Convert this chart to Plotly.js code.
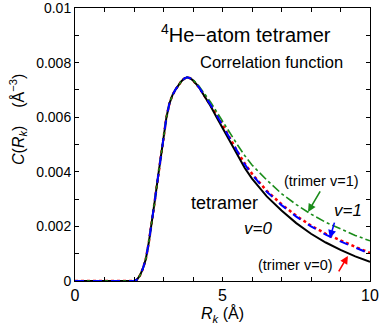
<!DOCTYPE html>
<html>
<head>
<meta charset="utf-8">
<script src="https://cdn.plot.ly/plotly-3.0.1.min.js"></script>
<style>html,body{margin:0;padding:0;background:#fff;}#plot{width:382px;height:327px;}</style>
</head>
<body>
<div id="plot"></div>
<script>
// R_k grid (Å)
const rk = [0, 0.5, 1.0, 1.5, 2.0, 2.1, 2.2, 2.3, 2.4, 2.5, 2.6, 2.7, 2.8, 2.9, 3.0, 3.1, 3.2, 3.3, 3.4, 3.5, 3.6, 3.7, 3.8, 3.9, 4.0, 4.2, 4.4, 4.6, 4.8, 5.0, 5.25, 5.5, 5.75, 6.0, 6.5, 7.0, 7.5, 8.0, 8.5, 9.0, 9.5, 10.0];
// tetramer v=0 (black solid)
const tetV0 = [0, 0, 0, 0, 0, 0.00005, 0.0002, 0.00045, 0.0008, 0.0014, 0.0021, 0.0029, 0.0037, 0.0045, 0.0053, 0.0060, 0.0065, 0.0068, 0.0070, 0.00717, 0.00731, 0.00741, 0.00746, 0.00743, 0.00735, 0.0071, 0.00677, 0.0064, 0.0060, 0.0056, 0.0051, 0.0046, 0.00415, 0.00375, 0.0031, 0.00258, 0.00212, 0.00173, 0.00141, 0.00114, 0.0009, 0.0007];
// tetramer v=1 (blue dashed)
const tetV1 = [0, 0, 0, 0, 0, 0.00005, 0.0002, 0.00045, 0.0008, 0.0014, 0.0021, 0.0029, 0.0037, 0.0045, 0.0053, 0.0060, 0.0065, 0.0068, 0.0070, 0.00717, 0.00731, 0.00741, 0.00746, 0.00743, 0.00735, 0.0071, 0.00678, 0.00645, 0.00608, 0.0057, 0.0052, 0.00472, 0.00428, 0.0039, 0.00327, 0.00278, 0.00236, 0.0020, 0.0017, 0.00145, 0.00122, 0.0010];
// trimer v=0 (red dotted)
const triV0 = [0, 0, 0, 0, 0, 0.00005, 0.0002, 0.00045, 0.0008, 0.0014, 0.0021, 0.0029, 0.0037, 0.0045, 0.0053, 0.0060, 0.0065, 0.0068, 0.0070, 0.00717, 0.00731, 0.00741, 0.00746, 0.00743, 0.00735, 0.0071, 0.00678, 0.00646, 0.0061, 0.00573, 0.00523, 0.00475, 0.00431, 0.00393, 0.0033, 0.00281, 0.00239, 0.00203, 0.00173, 0.00148, 0.00125, 0.00103];
// trimer v=1 (green dash-dot)
const triV1 = [0, 0, 0, 0, 0, 0.00005, 0.0002, 0.00045, 0.0008, 0.0014, 0.0021, 0.0029, 0.0037, 0.0045, 0.0053, 0.0060, 0.0065, 0.0068, 0.0070, 0.00717, 0.00731, 0.00741, 0.00746, 0.00744, 0.00737, 0.00714, 0.00685, 0.00655, 0.0062, 0.00585, 0.0054, 0.0050, 0.0046, 0.00425, 0.0037, 0.0032, 0.0028, 0.00245, 0.00215, 0.0019, 0.00167, 0.00147];

const yTickVals = [0, 0.002, 0.004, 0.006, 0.008, 0.01];
const yTickText = ['0', '0.002', '0.004', '0.006', '0.008', '0.01'];
const xTickVals = [0, 5, 10];
const xTickText = ['0', '5', '10'];

const FONT = 'Arial, "Liberation Sans", Helvetica, sans-serif';

const traces = [
  {x: rk, y: triV0, mode: 'lines', line: {color: '#ff0000', width: 2.5, dash: 'dot'}, name: 'trimer v=0'},
  {x: rk, y: tetV0, mode: 'lines', line: {color: '#000000', width: 2}, name: 'tetramer v=0'},
  {x: rk, y: triV1, mode: 'lines', line: {color: '#1a8c1a', width: 1.6, dash: 'dashdot'}, name: 'trimer v=1'},
  {x: rk, y: tetV1, mode: 'lines', line: {color: '#0000ff', width: 2, dash: 'dash'}, name: 'tetramer v=1'}
];

const ann = (x, y, text, size, extra) => Object.assign({x: x, y: y, xref: 'x', yref: 'y', text: text, showarrow: false, font: {family: FONT, size: size, color: '#000'}}, extra || {});

const layout = {
  width: 382, height: 327,
  margin: {l: 75, r: 12, t: 8, b: 46},
  paper_bgcolor: '#fff', plot_bgcolor: '#fff',
  showlegend: false,
  font: {family: FONT, color: '#000'},
  xaxis: {
    range: [0, 10.0001], tickmode: 'array', tickvals: xTickVals, ticktext: xTickText,
    ticks: 'inside', ticklen: 4, tickcolor: '#000', tickwidth: 1, ticklabeloverflow: 'allow',
    minor: {dtick: 1, ticks: 'inside', ticklen: 4, tickcolor: '#000', tickwidth: 1},
    showline: true, linecolor: '#000', linewidth: 1, mirror: 'ticks',
    showgrid: false, zeroline: false,
    tickfont: {family: FONT, size: 16, color: '#000'},
    title: {text: '<i>R<sub>k</sub></i> (Å)', font: {family: FONT, size: 16, color: '#000'}, standoff: 2}
  },
  yaxis: {
    range: [0, 0.0100001], tickmode: 'array', tickvals: yTickVals, ticktext: yTickText,
    ticks: 'inside', ticklen: 4, tickcolor: '#000', tickwidth: 1, ticklabeloverflow: 'allow',
    minor: {dtick: 0.001, ticks: 'inside', ticklen: 4, tickcolor: '#000', tickwidth: 1},
    showline: true, linecolor: '#000', linewidth: 1, mirror: 'ticks',
    showgrid: false, zeroline: false,
    tickfont: {family: FONT, size: 14, color: '#000'}
  },
  annotations: [
    {xref: 'paper', yref: 'paper', x: -0.193, y: 0.59, xanchor: 'center', yanchor: 'middle', textangle: -90, showarrow: false,
     text: '<i>C</i>(<i>R<sub>k</sub></i>)    (Å<sup>−3</sup>)', font: {family: FONT, size: 16, color: '#000'}},
    ann(5.81, 0.00908, '<sup>4</sup>He−atom tetramer', 20),
    ann(6.66, 0.00803, 'Correlation function', 16.5),
    ann(8.34, 0.00367, '(trimer v=1)', 14.5),
    ann(5.07, 0.00286, 'tetramer', 18),
    ann(6.22, 0.00194, '<i>v=0</i>', 17),
    ann(9.27, 0.00257, '<i>v=1</i>', 17),
    ann(7.47, 0.00059, '(trimer v=0)', 14.5),
    {x: 7.9, y: 0.00253, xref: 'x', yref: 'y', text: '', showarrow: true, ax: 13, ay: -22,
     arrowcolor: '#1a8c1a', arrowwidth: 1.6, arrowhead: 2, arrowsize: 1},
    {x: 8.64, y: 0.00157, xref: 'x', yref: 'y', text: '', showarrow: true, ax: 5, ay: -17,
     arrowcolor: '#0000ff', arrowwidth: 1.6, arrowhead: 2, arrowsize: 1},
    {x: 9.25, y: 0.00092, xref: 'x', yref: 'y', text: '', showarrow: true, ax: -10, ay: 17,
     arrowcolor: '#ff0000', arrowwidth: 1.6, arrowhead: 2, arrowsize: 1}
  ]
};

Plotly.newPlot('plot', traces, layout, {staticPlot: true, displayModeBar: false});
</script>
</body>
</html>
